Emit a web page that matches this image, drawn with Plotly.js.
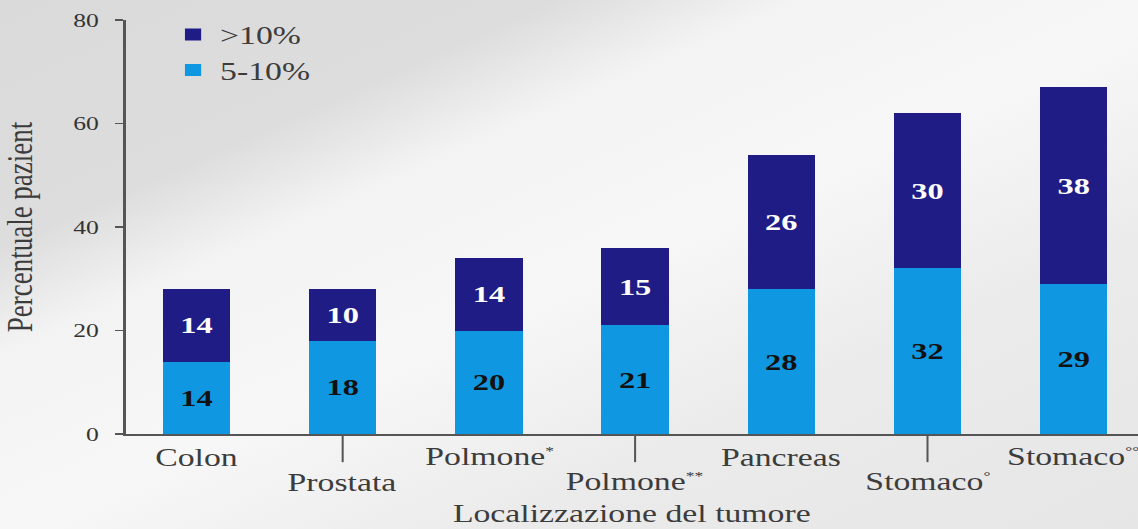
<!DOCTYPE html>
<html>
<head>
<meta charset="utf-8">
<script src="https://cdn.plot.ly/plotly-3.0.1.min.js"></script>
<style>
  html, body { margin: 0; padding: 0; overflow: hidden; }
  body {
    width: 1138px; height: 529px;
    background: linear-gradient(156deg, #dadada 0%, #dddddd 24%, #f3f3f3 34%, #f7f7f7 52%, #ebebeb 72%, #e6e6e6 100%);
  }
  /* the chart is laid out narrow and widened, giving the broad serif lettering */
  #chart { width: 843px; height: 529px; transform: scaleX(1.35); transform-origin: 0 0; }
</style>
</head>
<body>
<div id="chart"></div>
<script>
// Tumour sites and share of patients with weight loss, by class
const categories = ['Colon', 'Prostata', 'Polmone*', 'Polmone**', 'Pancreas', 'Stomaco°', 'Stomaco°°'];
const mark = s => '<sup><span style="font-size:13px">' + s + '</span></sup>';
const tickLabels = ['Colon', 'Prostata', 'Polmone' + mark('*'), 'Polmone' + mark('**'), 'Pancreas', 'Stomaco' + mark('°'), 'Stomaco' + mark('°°')];
const pct5to10 = [14, 18, 20, 21, 28, 32, 29];
const pctOver10 = [14, 10, 14, 15, 26, 30, 38];
const yTicks = [0, 20, 40, 60, 80];

const serif = 'Liberation Serif, Times New Roman, serif';
const lightBlue = '#1097e2';
const navy = '#1f1c85';
const inkGray = '#3c3c3c';
const axisGray = '#555555';

const traces = [
  {
    type: 'bar', name: '5-10%', x: categories, y: pct5to10,
    marker: { color: lightBlue },
    text: pct5to10.map(String), textposition: 'inside', insidetextanchor: 'middle',
    textfont: { family: serif, size: 24, color: '#111111', weight: 'bold' },
    constraintext: 'none', legendgroup: 'a', hoverinfo: 'x+y+name'
  },
  {
    type: 'bar', name: '>10%', x: categories, y: pctOver10,
    marker: { color: navy },
    text: pctOver10.map(String), textposition: 'inside', insidetextanchor: 'middle',
    textfont: { family: serif, size: 24, color: '#ffffff', weight: 'bold' },
    constraintext: 'none', legendgroup: 'b', hoverinfo: 'x+y+name'
  }
];

// Staggered category labels: every other one sits lower, hung from a tick line
const annotations = categories.map((c, i) => ({
  x: c, xref: 'x', yref: 'paper',
  y: i % 2 === 0 ? -0.056 : -0.116,
  yanchor: 'middle', xanchor: 'center',
  text: tickLabels[i], showarrow: false,
  font: { family: serif, size: 25, color: inkGray }
}));

const shapes = categories
  .filter((c, i) => i % 2 === 1)
  .map(c => ({
    type: 'line', xref: 'x', yref: 'paper',
    x0: c, x1: c, y0: 0, y1: -0.068,
    line: { color: axisGray, width: 1.5 }
  }));

const layout = {
  width: 843, height: 529,
  margin: { l: 93, r: 0, t: 20, b: 95 },
  paper_bgcolor: 'rgba(0,0,0,0)',
  plot_bgcolor: 'rgba(0,0,0,0)',
  barmode: 'stack',
  bargap: 0.54,
  font: { family: serif, color: inkGray },
  xaxis: {
    type: 'category', range: [-0.485, 6.44],
    showticklabels: false, ticks: '',
    showline: true, linecolor: axisGray, linewidth: 2,
    showgrid: false, zeroline: false,
    title: { text: 'Localizzazione del tumore', font: { family: serif, size: 25, color: inkGray }, standoff: 70 }
  },
  yaxis: {
    range: [0, 80], tickvals: yTicks,
    ticks: 'outside', ticklen: 6, tickwidth: 1.5, tickcolor: axisGray,
    ticklabelstandoff: 8,
    showline: true, linecolor: axisGray, linewidth: 2,
    showgrid: false, zeroline: false,
    tickfont: { family: serif, size: 19, color: '#333333' },
    title: { text: 'Percentuale pazient', font: { family: serif, size: 27, color: inkGray }, standoff: 23 }
  },
  showlegend: true,
  legend: {
    x: 0.04, xanchor: 'left', y: 1.02, yanchor: 'top',
    traceorder: 'reversed', tracegroupgap: 3,
    bgcolor: 'rgba(0,0,0,0)',
    font: { family: serif, size: 25, color: inkGray }
  },
  annotations: annotations,
  shapes: shapes
};

Plotly.newPlot('chart', traces, layout, { displayModeBar: false, staticPlot: true });
</script>
</body>
</html>
